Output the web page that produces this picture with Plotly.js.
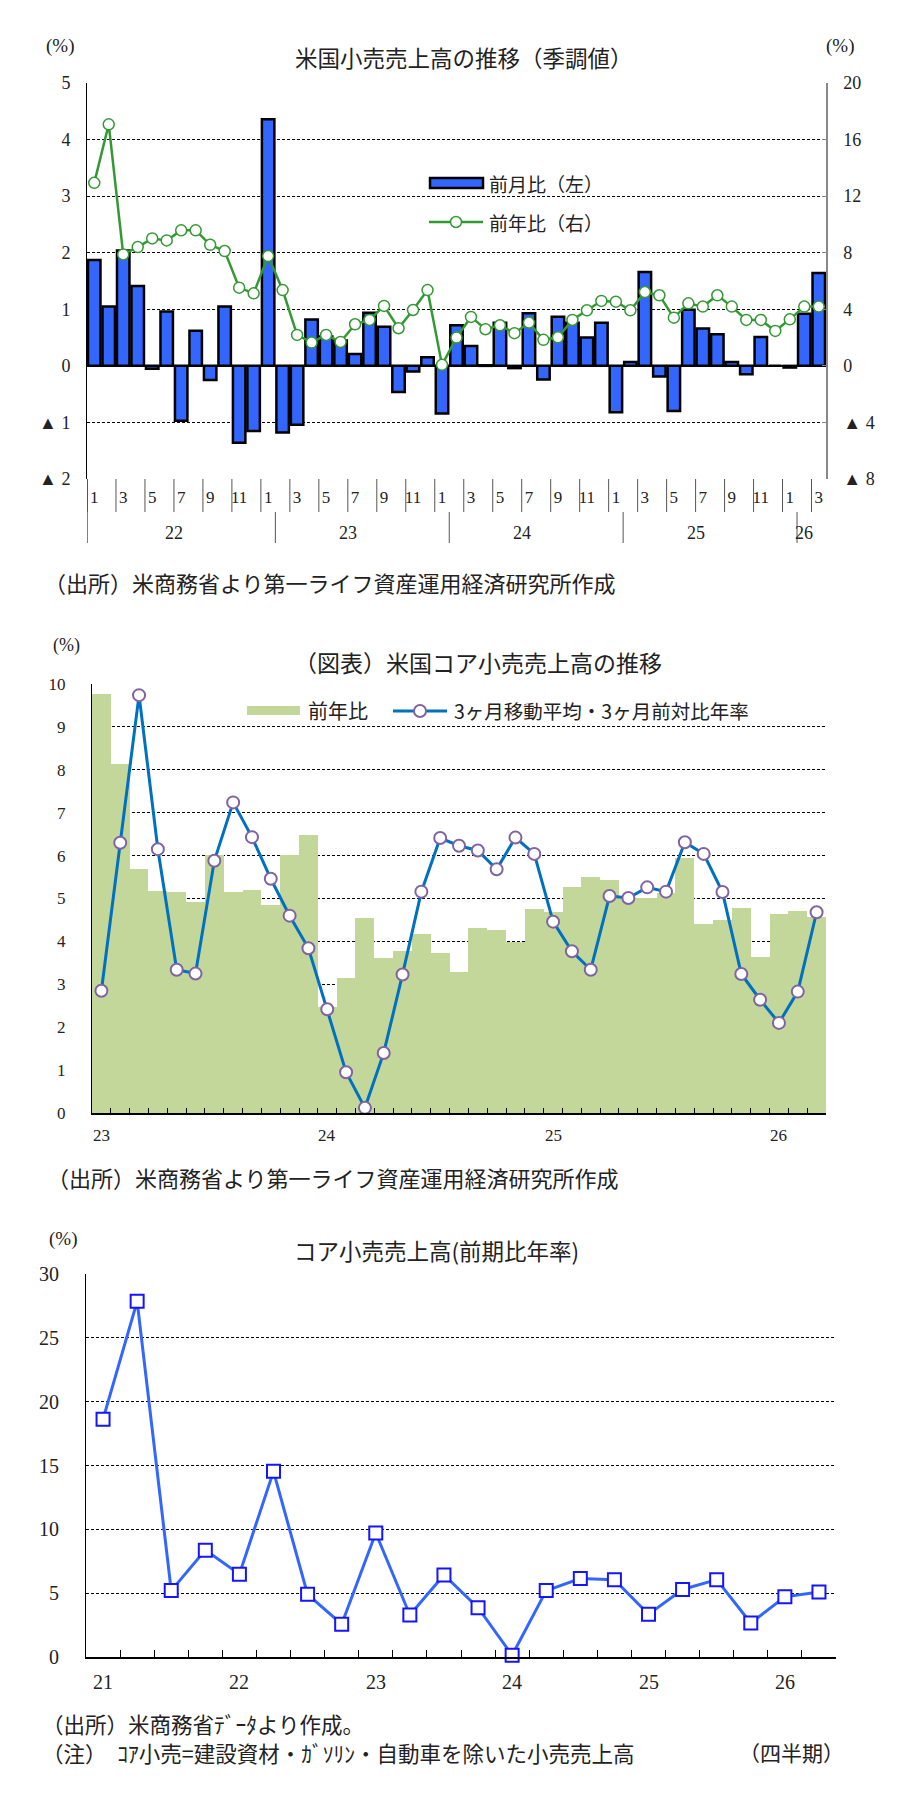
<!DOCTYPE html>
<html>
<head>
<meta charset="utf-8">
<script src="https://cdn.plot.ly/plotly-3.0.1.min.js"></script>
<style>
body{margin:0;background:#fff;width:910px;height:1797px;position:relative;overflow:hidden}
.c{position:absolute;left:0;width:910px}
</style>
</head>
<body>
<div id="c1" class="c" style="top:0;height:600px"></div>
<div id="c2" class="c" style="top:600px;height:600px"></div>
<div id="c3" class="c" style="top:1200px;height:597px"></div>
<script>
// ---- data: US retail sales, seasonally adjusted (%)
var period1 = ['22-01','22-02','22-03','22-04','22-05','22-06','22-07','22-08','22-09','22-10','22-11','22-12',
               '23-01','23-02','23-03','23-04','23-05','23-06','23-07','23-08','23-09','23-10','23-11','23-12',
               '24-01','24-02','24-03','24-04','24-05','24-06','24-07','24-08','24-09','24-10','24-11','24-12',
               '25-01','25-02','25-03','25-04','25-05','25-06','25-07','25-08','25-09','25-10','25-11','25-12',
               '26-01','26-02','26-03'];
var momChange = [1.87,1.05,2.04,1.41,-0.05,0.96,-0.97,0.62,-0.25,1.05,-1.36,-1.15,
                 4.36,-1.18,-1.04,0.82,0.52,0.45,0.21,0.94,0.69,-0.46,-0.10,0.15,
                 -0.84,0.72,0.35,0.01,0.76,-0.04,0.93,-0.24,0.87,0.76,0.50,0.76,
                 -0.82,0.07,1.66,-0.19,-0.80,0.99,0.66,0.56,0.07,-0.15,0.51,0.00,
                 -0.03,0.92,1.64];
var yoyChange = [12.94,17.08,7.88,8.40,9.01,8.87,9.58,9.58,8.56,8.12,5.53,5.13,
                 7.76,5.36,2.19,1.65,2.19,1.69,2.94,3.25,4.24,2.66,3.95,5.36,
                 0.07,2.00,3.46,2.59,2.87,2.31,3.06,1.84,2.02,3.25,3.93,4.59,
                 4.54,3.93,5.22,4.99,3.41,4.42,4.19,4.99,4.19,3.25,3.25,2.47,
                 3.29,4.19,4.19];
var leftTicks = [-2,-1,0,1,2,3,4,5];
var rightTicks = [-8,-4,0,4,8,12,16,20];

// ---- data: US core retail sales
var period2 = ['23-01','23-02','23-03','23-04','23-05','23-06','23-07','23-08','23-09','23-10','23-11','23-12',
               '24-01','24-02','24-03','24-04','24-05','24-06','24-07','24-08','24-09','24-10','24-11','24-12',
               '25-01','25-02','25-03','25-04','25-05','25-06','25-07','25-08','25-09','25-10','25-11','25-12',
               '26-01','26-02','26-03'];
var coreYoy = [9.76,8.14,5.69,5.18,5.14,4.93,6.02,5.16,5.20,4.85,6.02,6.47,
               2.48,3.14,4.54,3.61,3.78,4.17,3.74,3.28,4.31,4.27,3.98,4.75,
               4.69,5.26,5.51,5.42,5.02,5.02,5.12,5.94,4.41,4.50,4.77,3.64,
               4.64,4.71,4.58];
var core3m = [2.85,6.30,9.74,6.15,3.34,3.25,5.88,7.24,6.43,5.46,4.60,3.84,
              2.42,0.95,0.12,1.40,3.23,5.16,6.41,6.23,6.12,5.68,6.42,6.04,
              4.46,3.77,3.34,5.06,5.01,5.26,5.16,6.31,6.04,5.15,3.24,2.64,
              2.10,2.83,4.68];

// ---- data: core retail sales, q/q annualised
var period3 = ['21Q1','21Q2','21Q3','21Q4','22Q1','22Q2','22Q3','22Q4','23Q1','23Q2','23Q3','23Q4',
               '24Q1','24Q2','24Q3','24Q4','25Q1','25Q2','25Q3','25Q4','26Q1','26Q2'];
var coreQoq = [18.63,27.86,5.20,8.37,6.49,14.54,4.91,2.57,9.71,3.29,6.43,3.86,
               0.14,5.20,6.14,6.06,3.34,5.29,6.06,2.66,4.71,5.09];

var SERIF = '"Liberation Serif", "Noto Sans CJK JP", serif';
var JP = '"Noto Sans CJK JP", sans-serif';
var INK = '#222';
var GRIDDASH = '3px,2px';

// pixel -> paper helpers for each chart div
function frame(top, m, W, H) {
    var pw = W - m.l - m.r, ph = H - m.t - m.b;
    return {
        x: function (px) { return (px - m.l) / pw; },
        y: function (py) { return (H - m.b - (py - top)) / ph; },
        pw: pw
    };
}
function txt(f, text, px, py, size, anchor, family) {
    return {text: text, xref: 'paper', yref: 'paper', x: f.x(px), y: f.y(py),
            xanchor: anchor || 'center', yanchor: 'middle', showarrow: false,
            font: {family: family || JP, size: size, color: INK}};
}
function axisLabel(text, xval, yp, size) {
    return {text: text, xref: 'x', yref: 'paper', x: xval, y: yp, showarrow: false,
            xanchor: 'center', yanchor: 'middle', font: {family: SERIF, size: size, color: INK}};
}
function negLabel(v) { return v < 0 ? '▲ ' + (-v) : String(v); }

// ================= chart 1
var m1 = {l: 87, r: 84, t: 83, b: 121};
var f1 = frame(0, m1, 910, 600);
var idx1 = period1.map(function (p, i) { return i; });
var mon1 = period1.map(function (p) { return +p.split('-')[1]; });
var yr1 = period1.map(function (p) { return p.split('-')[0]; });
var odd1 = idx1.filter(function (i) { return mon1[i] % 2 === 1; });

var shapes1 = [];
odd1.forEach(function (i) {
    shapes1.push({type: 'line', xref: 'x', yref: 'paper', x0: i - 0.5, x1: i - 0.5,
                  y0: 0, y1: f1.y(512), line: {color: '#555', width: 1}});
});
shapes1.push({type: 'line', xref: 'x', yref: 'paper', x0: -0.5, x1: -0.5,
              y0: 0, y1: f1.y(543), line: {color: '#000', width: 1}});
var years1 = yr1.filter(function (y, i) { return yr1.indexOf(y) === i; });
var ann1 = [];
years1.forEach(function (y, k) {
    var ii = idx1.filter(function (i) { return yr1[i] === y; });
    var mid = ii.reduce(function (a, b) { return a + b; }, 0) / ii.length;
    if (k > 0) {
        shapes1.push({type: 'line', xref: 'x', yref: 'paper', x0: ii[0] + 0.5, x1: ii[0] + 0.5,
                      y0: f1.y(512), y1: f1.y(543), line: {color: '#555', width: 1}});
    }
    ann1.push(axisLabel(y, mid, f1.y(533), 18));
});
// legend
shapes1.push({type: 'rect', xref: 'paper', yref: 'paper', x0: f1.x(430), x1: f1.x(483),
              y0: f1.y(188), y1: f1.y(178), fillcolor: '#3366FF', line: {color: '#000', width: 2.5}});
shapes1.push({type: 'line', xref: 'paper', yref: 'paper', x0: f1.x(429), x1: f1.x(483),
              y0: f1.y(222), y1: f1.y(222), line: {color: '#339933', width: 2.5}});
shapes1.push({type: 'circle', xref: 'paper', yref: 'paper', xsizemode: 'pixel', ysizemode: 'pixel',
              xanchor: f1.x(456), yanchor: f1.y(222), x0: -5.5, x1: 5.5, y0: -5.5, y1: 5.5,
              fillcolor: '#fff', line: {color: '#339933', width: 1.5}});
ann1.push(txt(f1, '前月比（左）', 487, 183, 19, 'left'));
ann1.push(txt(f1, '前年比（右）', 487, 222, 19, 'left'));
ann1.push(txt(f1, '米国小売売上高の推移（季調値）', 464, 57, 22.5));
ann1.push(txt(f1, '(%)', 60, 46, 19, 'center', SERIF));
ann1.push(txt(f1, '(%)', 840, 46, 19, 'center', SERIF));
ann1.push(txt(f1, '（出所）米商務省より第一ライフ資産運用経済研究所作成', 42, 582, 22, 'left'));

Plotly.newPlot('c1', [
    {type: 'bar', x: idx1, y: momChange, name: '前月比（左）',
     marker: {color: '#3366FF', line: {color: '#000', width: 2.5}}},
    {type: 'scatter', mode: 'lines+markers', x: idx1, y: yoyChange, yaxis: 'y2', name: '前年比（右）',
     line: {color: '#339933', width: 2.5}, cliponaxis: false,
     marker: {symbol: 'circle', size: 11, color: '#fff', line: {color: '#339933', width: 1.5}}}
], {
    width: 910, height: 600, margin: m1, showlegend: false, bargap: 0.14,
    paper_bgcolor: '#fff', plot_bgcolor: '#fff',
    font: {family: SERIF, color: INK},
    xaxis: {range: [-0.5, idx1.length - 0.5], tickvals: odd1,
            ticktext: odd1.map(function (i) { return String(mon1[i]); }),
            ticks: '', showgrid: false, zeroline: false, showline: false,
            tickfont: {size: 17}, ticklabelstandoff: 6},
    yaxis: {range: [-2, 5], tickvals: leftTicks, ticktext: leftTicks.map(negLabel),
            showgrid: true, gridcolor: '#000', griddash: GRIDDASH, gridwidth: 1,
            zeroline: true, zerolinecolor: '#000', zerolinewidth: 1.5,
            showline: true, linecolor: '#000', linewidth: 1, ticks: '',
            tickfont: {size: 18}, ticklabelstandoff: 12},
    yaxis2: {overlaying: 'y', side: 'right', range: [-8, 20], tickvals: rightTicks,
             ticktext: rightTicks.map(negLabel), showgrid: false, zeroline: false,
             showline: true, linecolor: '#888', linewidth: 1.5,
             ticks: 'inside', ticklen: 4, tickcolor: '#888',
             tickfont: {size: 18}, ticklabelstandoff: 12},
    shapes: shapes1, annotations: ann1
}, {displayModeBar: false});

// ================= chart 2
var m2 = {l: 92, r: 84, t: 84, b: 87};
var f2 = frame(600, m2, 910, 600);
var idx2 = period2.map(function (p, i) { return i; });
var bnd2 = idx2.map(function (i) { return i - 0.5; }).concat([idx2.length - 0.5]);
var shapes2 = [
    {type: 'rect', xref: 'paper', yref: 'paper', layer: 'between', x0: f2.x(217), x1: f2.x(765),
     y0: f2.y(732), y1: f2.y(690), fillcolor: '#fff', line: {width: 0}},
    {type: 'rect', xref: 'paper', yref: 'paper', x0: f2.x(247), x1: f2.x(300),
     y0: f2.y(715), y1: f2.y(706), fillcolor: '#C4D79B', line: {width: 0}},
    {type: 'line', xref: 'paper', yref: 'paper', x0: f2.x(393), x1: f2.x(447),
     y0: f2.y(711), y1: f2.y(711), line: {color: '#0070C0', width: 3}},
    {type: 'circle', xref: 'paper', yref: 'paper', xsizemode: 'pixel', ysizemode: 'pixel',
     xanchor: f2.x(420), yanchor: f2.y(711), x0: -6, x1: 6, y0: -6, y1: 6,
     fillcolor: '#fff', line: {color: '#8064A2', width: 2}}
];
var ann2 = [
    txt(f2, '前年比', 306, 711, 20, 'left'),
    txt(f2, '3ヶ月移動平均・3ヶ月前対比年率', 452, 711, 19.5, 'left'),
    txt(f2, '（図表）米国コア小売売上高の推移', 478, 662, 23),
    txt(f2, '(%)', 66, 645, 18, 'center', SERIF),
    txt(f2, '（出所）米商務省より第一ライフ資産運用経済研究所作成', 45, 1177, 22, 'left')
];
idx2.forEach(function (i) {
    if (+period2[i].split('-')[1] === 1) ann2.push(axisLabel(period2[i].split('-')[0], i, f2.y(1135), 17));
});
Plotly.newPlot('c2', [
    {type: 'bar', x: idx2, y: coreYoy, name: '前年比', width: 1,
     marker: {color: '#C4D79B', line: {width: 0}}},
    {type: 'scatter', mode: 'lines+markers', x: idx2, y: core3m, name: '3ヶ月移動平均・3ヶ月前対比年率',
     line: {color: '#0070C0', width: 3}, cliponaxis: false,
     marker: {symbol: 'circle', size: 12, color: '#fff', line: {color: '#8064A2', width: 2}}}
], {
    width: 910, height: 600, margin: m2, showlegend: false, bargap: 0,
    paper_bgcolor: '#fff', plot_bgcolor: '#fff',
    font: {family: SERIF, color: INK},
    xaxis: {range: [-0.5, idx2.length - 0.5], tickvals: bnd2, showticklabels: false,
            ticks: 'inside', ticklen: 5, tickcolor: '#000', tickwidth: 1,
            showgrid: false, zeroline: false, showline: true, linecolor: '#000', linewidth: 1.5,
            layer: 'above traces'},
    yaxis: {range: [0, 10], dtick: 1, showgrid: true, gridcolor: '#000', griddash: GRIDDASH,
            zeroline: false, showline: true, linecolor: '#000', linewidth: 1, ticks: '',
            layer: 'above traces', tickfont: {size: 17}, ticklabelstandoff: 22},
    shapes: shapes2, annotations: ann2
}, {displayModeBar: false});

// ================= chart 3
var m3 = {l: 86, r: 74, t: 74, b: 140};
var f3 = frame(1200, m3, 910, 597);
var idx3 = period3.map(function (p, i) { return i; });
var bnd3 = idx3.map(function (i) { return i - 0.5; }).concat([idx3.length - 0.5]);
var ann3 = [
    txt(f3, 'コア小売売上高(前期比年率)', 436, 1250, 22.5),
    txt(f3, '(%)', 63, 1239, 19, 'center', SERIF),
    txt(f3, '（出所）米商務省ﾃﾞｰﾀより作成。', 40, 1723, 21.5, 'left'),
    txt(f3, '（注）　ｺｱ小売=建設資材・ｶﾞｿﾘﾝ・自動車を除いた小売売上高', 40, 1752, 21.5, 'left'),
    txt(f3, '（四半期）', 846, 1752, 21, 'right')
];
idx3.forEach(function (i) {
    if (period3[i].slice(2) === 'Q1') ann3.push(axisLabel(period3[i].slice(0, 2), i, f3.y(1682), 20));
});
Plotly.newPlot('c3', [
    {type: 'scatter', mode: 'lines+markers', x: idx3, y: coreQoq, name: 'コア小売売上高',
     line: {color: '#3366FF', width: 3}, cliponaxis: false,
     marker: {symbol: 'square', size: 13, color: '#fff', line: {color: '#1414FF', width: 2}}}
], {
    width: 910, height: 597, margin: m3, showlegend: false,
    paper_bgcolor: '#fff', plot_bgcolor: '#fff',
    font: {family: SERIF, color: INK},
    xaxis: {range: [-0.5, idx3.length - 0.5], tickvals: bnd3, showticklabels: false,
            ticks: 'inside', ticklen: 7, tickcolor: '#000', tickwidth: 1,
            showgrid: false, zeroline: false, showline: true, linecolor: '#000', linewidth: 1.5},
    yaxis: {range: [0, 30], dtick: 5, showgrid: true, gridcolor: '#000', griddash: GRIDDASH,
            zeroline: false, showline: true, linecolor: '#000', linewidth: 1, ticks: '',
            tickfont: {size: 20}, ticklabelstandoff: 22},
    annotations: ann3
}, {displayModeBar: false});
</script>
</body>
</html>
